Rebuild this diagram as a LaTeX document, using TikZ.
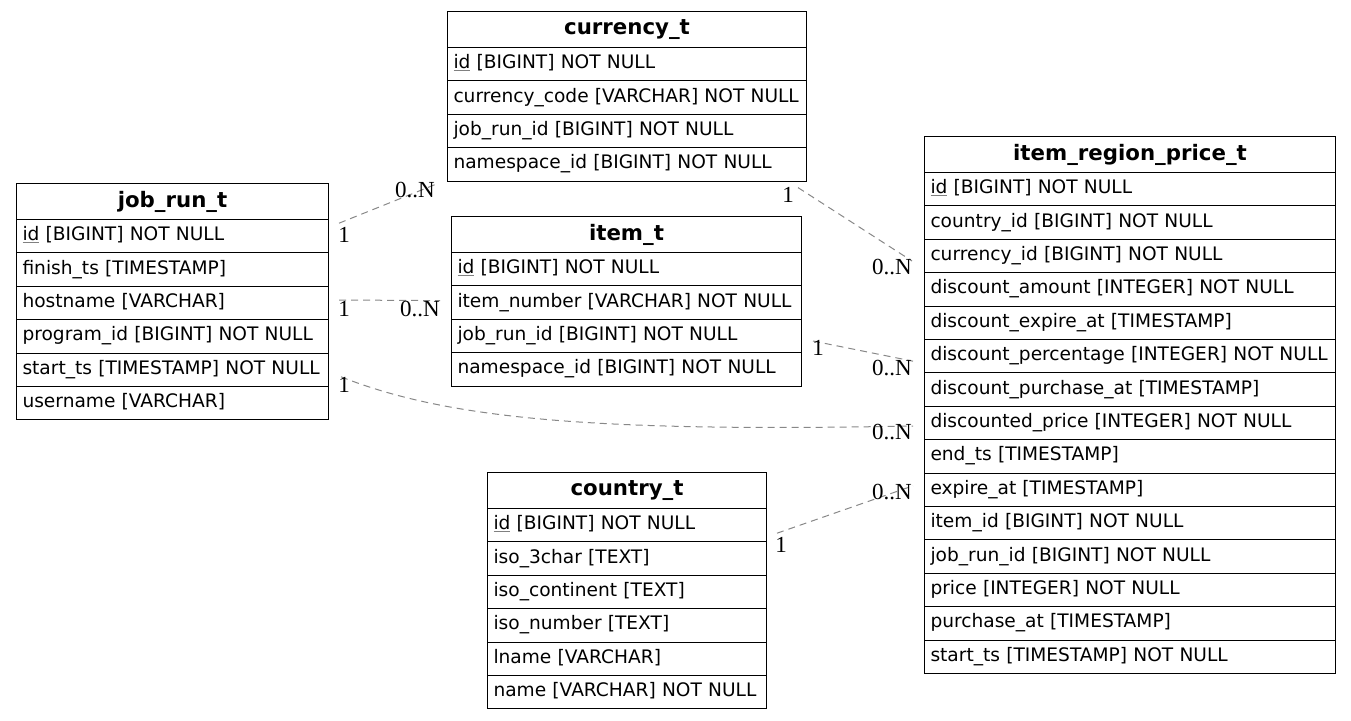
\documentclass[tikz,border=0pt]{standalone}
\usepackage{fontspec}
\setmainfont{DejaVu Sans}
\newfontfamily\lblfont{Liberation Serif}
\usetikzlibrary{calc}
\definecolor{edgegray}{HTML}{888888}
\newcommand\keyu[1]{\textcolor{gray}{\underline{\textcolor{black}{#1}}}}
\tikzset{
  hdr/.style={draw, line width=1pt, minimum height=36pt, inner sep=0pt, anchor=north west,
    font=\bfseries\fontsize{21.3}{24}\selectfont},
  fld/.style={draw, line width=1pt, minimum height=33.4pt, inner xsep=6pt, inner ysep=0pt,
    anchor=north west, align=left, font=\fontsize{18.6}{22}\selectfont},
  rel/.style={draw=edgegray, line width=1pt, dash pattern=on 7pt off 5pt},
  card/.style={font=\lblfont\fontsize{23}{26}\selectfont, inner sep=0pt}
}
\newcommand\ertable[6]{%
  \node[hdr, minimum width=#4pt] (#1) at (#2,#3) {#5};
  \pgfmathsetmacro\tw{#4-12}
  \foreach \r [count=\i] in {#6} {
    \node[fld, text width=\tw pt] (#1-\i) at (#2,{#3+36+(\i-1)*33.4}) {\mbox{\strut\r}};
  }
}
\begin{document}
\begin{tikzpicture}[x=1pt,y=-1pt]
\useasboundingbox (0,0) rectangle (1351,720);

\ertable{jr}{16}{183}{312}{job\_run\_t}{\keyu{id} [BIGINT] NOT NULL,finish\_ts [TIMESTAMP],hostname [VARCHAR],program\_id [BIGINT] NOT NULL,start\_ts [TIMESTAMP] NOT NULL,username [VARCHAR]}

\ertable{cur}{447}{11}{359}{currency\_t}{\keyu{id} [BIGINT] NOT NULL,currency\_code [VARCHAR] NOT NULL,job\_run\_id [BIGINT] NOT NULL,namespace\_id [BIGINT] NOT NULL}

\ertable{it}{451}{216}{350}{item\_t}{\keyu{id} [BIGINT] NOT NULL,item\_number [VARCHAR] NOT NULL,job\_run\_id [BIGINT] NOT NULL,namespace\_id [BIGINT] NOT NULL}

\ertable{co}{487}{472}{279}{country\_t}{\keyu{id} [BIGINT] NOT NULL,iso\_3char [TEXT],iso\_continent [TEXT],iso\_number [TEXT],lname [VARCHAR],name [VARCHAR] NOT NULL}

\ertable{irp}{924}{136}{411}{item\_region\_price\_t}{\keyu{id} [BIGINT] NOT NULL,country\_id [BIGINT] NOT NULL,currency\_id [BIGINT] NOT NULL,discount\_amount [INTEGER] NOT NULL,discount\_expire\_at [TIMESTAMP],discount\_percentage [INTEGER] NOT NULL,discount\_purchase\_at [TIMESTAMP],discounted\_price [INTEGER] NOT NULL,end\_ts [TIMESTAMP],expire\_at [TIMESTAMP],item\_id [BIGINT] NOT NULL,job\_run\_id [BIGINT] NOT NULL,price [INTEGER] NOT NULL,purchase\_at [TIMESTAMP],start\_ts [TIMESTAMP] NOT NULL}

% connector ends
\coordinate (e1a) at ($(jr-1.east)+(10,-13)$);
\coordinate (e1b) at ($(cur-4.south west)+(-12,3)$);
\coordinate (e2a) at ($(jr-3.east)+(10,-3)$);
\coordinate (e2b) at ($(it-2.west)+(-11,-2)$);
\coordinate (e3a) at ($(jr-5.east)+(12,7)$);
\coordinate (e3b) at ($(irp-8.west)+(-11,3)$);
\coordinate (e4a) at ($(cur-4.south east)+(-9,6)$);
\coordinate (e4b) at ($(irp-3.west)+(-12,5)$);
\coordinate (e5a) at ($(it-3.east)+(11,5)$);
\coordinate (e5b) at ($(irp-6.west)+(-11,5)$);
\coordinate (e6a) at ($(co-1.east)+(10,8)$);
\coordinate (e6b) at ($(irp-10.west)+(-11,-4)$);

\draw[rel] (e1a) -- (e1b);
\draw[rel] (e2a) -- (e2b);
\draw[rel] (e3a) .. controls (450,420) and (600,432) .. (e3b);
\draw[rel] (e4a) -- (e4b);
\draw[rel] (e5a) -- (e5b);
\draw[rel] (e6a) -- (e6b);

\node[card] (l1a) at (344,235) {1};
\node[card] (l1b) at (415,190) {0..N};
\node[card] (l2a) at (344,309) {1};
\node[card] (l2b) at (420,309) {0..N};
\node[card] (l3a) at (344,385) {1};
\node[card] (l3b) at (892,432) {0..N};
\node[card] (l4a) at (788,195) {1};
\node[card] (l4b) at (892,267) {0..N};
\node[card] (l5a) at (818,348) {1};
\node[card] (l5b) at (892,368) {0..N};
\node[card] (l6a) at (781,545) {1};
\node[card] (l6b) at (892,492) {0..N};
\end{tikzpicture}
\end{document}
